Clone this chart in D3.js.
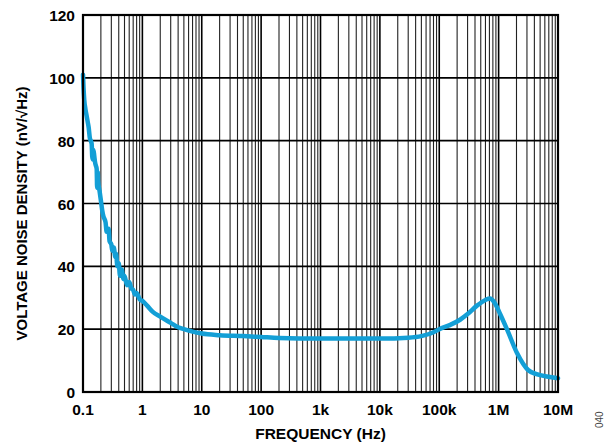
<!DOCTYPE html>
<html><head><meta charset="utf-8">
<script src="https://cdn.jsdelivr.net/npm/d3@7/dist/d3.min.js"></script>
<style>body{margin:0;background:#fff}svg{display:block}</style>
</head><body>
<svg id="c" width="616" height="444"></svg>
<script>
const freq = [0.1,0.102,0.105,0.11,0.115,0.12,0.125,0.13,0.135,0.14,0.143,0.147,0.15,0.155,0.16,0.165,0.17,0.173,0.177,0.18,0.19,0.2,0.21,0.22,0.24,0.25,0.27,0.28,0.3,0.31,0.33,0.35,0.36,0.38,0.4,0.42,0.45,0.48,0.5,0.55,0.6,0.65,0.7,0.75,0.8,0.9,1,1.2,1.5,2,3,4,5,7,10,20,50,100,200,1000,10000,30000,50000,80000,100000,150000,224000,300000,432000,600000,716000,850000,1050000,1380000,2040000,3130000,4500000,7300000,10000000];
const noise = [101,97,93,90,88,86,84,81,80,79,75,74,77,75,73,72,71,65,70,67,64,61,58,56,54,51,52,48,47,45,46,43,44,40,41,37,39,36,37,34,35,33,32.5,31,31.5,29.5,29,27.5,25.5,24,22,20.6,20,19.2,18.6,18.1,17.8,17.5,17.2,17,17,17.3,17.8,19,20,21.3,23,24.8,27.5,29.3,29.8,28.5,25,20,12.4,7,5.6,4.8,4.4];
const yTicks = [0,20,40,60,80,100,120];
const xTicks = [0.1,1,10,100,1e3,1e4,1e5,1e6,1e7];
const xTickLabels = ["0.1","1","10","100","1k","10k","100k","1M","10M"];

const svg = d3.select("#c");
const L=83,R=558,T=15,B=392;
const x = d3.scaleLog().domain([0.1,1e7]).range([L,R]);
const y = d3.scaleLinear().domain([0,120]).range([B,T]);
const g = svg.append("g");

// minor grid
const minors=[];
for(let e=-1;e<7;e++){for(let m=2;m<=9;m++){minors.push(m*Math.pow(10,e));}}
g.selectAll(".mn").data(minors).enter().append("line")
 .attr("x1",d=>x(d)).attr("x2",d=>x(d)).attr("y1",T).attr("y2",B)
 .attr("stroke","#222").attr("stroke-width",1.1);
g.selectAll(".mj").data(xTicks).enter().append("line")
 .attr("x1",d=>x(d)).attr("x2",d=>x(d)).attr("y1",T).attr("y2",B)
 .attr("stroke","#000").attr("stroke-width",1.6);
g.selectAll(".hy").data(yTicks).enter().append("line")
 .attr("x1",L).attr("x2",R).attr("y1",d=>y(d)).attr("y2",d=>y(d))
 .attr("stroke","#000").attr("stroke-width",1.6);

// curve
const pts = freq.map((f,i)=>[f,noise[i]]);
g.append("path").datum(pts)
 .attr("d",d3.line().x(d=>x(d[0])).y(d=>y(d[1])).curve(d3.curveMonotoneX))
 .attr("fill","none").attr("stroke","#139fd6").attr("stroke-width",4.5)
 .attr("stroke-linejoin","round").attr("stroke-linecap","round");

// frame
g.append("rect").attr("x",L).attr("y",T).attr("width",R-L).attr("height",B-T)
 .attr("fill","none").attr("stroke","#000").attr("stroke-width",2.2);

const font = "'Liberation Sans', Arial, sans-serif";
// y tick labels
svg.selectAll(".yl").data(yTicks).enter().append("text")
 .attr("x",L-8).attr("y",d=>y(d)+6).attr("text-anchor","end")
 .attr("font-family",font).attr("font-weight","bold").attr("font-size",15.5).text(d=>d);
// x tick labels
svg.selectAll(".xl").data(xTicks).enter().append("text")
 .attr("x",d=>x(d)).attr("y",B+23).attr("text-anchor","middle")
 .attr("font-family",font).attr("font-weight","bold").attr("font-size",15.5)
 .text((d,i)=>xTickLabels[i]);

svg.append("text").attr("x",(L+R)/2).attr("y",439).attr("text-anchor","middle")
 .attr("font-family",font).attr("font-weight","bold").attr("font-size",15.5).text("FREQUENCY (Hz)");
svg.append("text").attr("transform",`translate(27,${(T+B)/2+10}) rotate(-90)`).attr("text-anchor","middle")
 .attr("font-family",font).attr("font-weight","bold").attr("font-size",15).text("VOLTAGE NOISE DENSITY (nV/√Hz)");
svg.append("text").attr("transform","translate(603,428) rotate(-90)").attr("text-anchor","start")
 .attr("font-family",font).attr("font-size",10).attr("fill","#444").text("040");
</script>
</body></html>
